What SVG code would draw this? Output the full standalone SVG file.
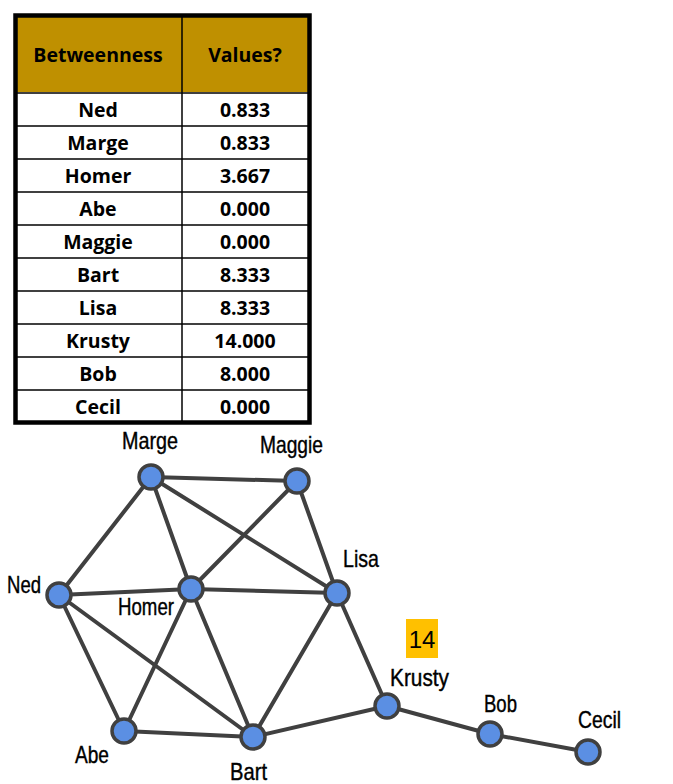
<svg xmlns="http://www.w3.org/2000/svg" width="673" height="784" viewBox="0 0 673 784">
<style>
.th{font-family:"Open Sans","Liberation Sans",sans-serif;font-weight:bold;font-size:19.5px;fill:#000;text-anchor:middle}
.td{font-family:"Open Sans","Liberation Sans",sans-serif;font-weight:bold;font-size:19.5px;fill:#000;text-anchor:middle}
.grid{stroke:#000;stroke-width:1.5;fill:none}
.edge{stroke:#404040;stroke-width:4;stroke-linecap:round}
.node{fill:#5B8FE3;stroke:#404040;stroke-width:3.5}
.lbl{font-family:"Liberation Sans","DejaVu Sans",sans-serif;font-size:24px;fill:#000;stroke:#000;stroke-width:0.4}
.num{font-family:"Liberation Sans",sans-serif;font-size:24px;fill:#000;text-anchor:middle}
</style>
<g id="table">
<rect x="16" y="16" width="293" height="76" fill="#BF9000"/>
<rect x="16" y="92" width="293" height="330" fill="#fff"/>
<g class="grid">
<line x1="182" y1="16" x2="182" y2="422"/>
<line x1="16" y1="93" x2="309" y2="93"/>
<line x1="16" y1="126" x2="309" y2="126"/>
<line x1="16" y1="159" x2="309" y2="159"/>
<line x1="16" y1="192" x2="309" y2="192"/>
<line x1="16" y1="225" x2="309" y2="225"/>
<line x1="16" y1="258" x2="309" y2="258"/>
<line x1="16" y1="291" x2="309" y2="291"/>
<line x1="16" y1="324" x2="309" y2="324"/>
<line x1="16" y1="357" x2="309" y2="357"/>
<line x1="16" y1="390" x2="309" y2="390"/>
</g>
<rect x="15.5" y="15.5" width="294" height="407" fill="none" stroke="#000" stroke-width="4.5"/>
<text class="th" x="98" y="62">Betweenness</text>
<text class="th" x="245" y="62">Values?</text>
<text class="td" x="98" y="117">Ned</text><text class="td" x="245" y="117">0.833</text>
<text class="td" x="98" y="150">Marge</text><text class="td" x="245" y="150">0.833</text>
<text class="td" x="98" y="183">Homer</text><text class="td" x="245" y="183">3.667</text>
<text class="td" x="98" y="216">Abe</text><text class="td" x="245" y="216">0.000</text>
<text class="td" x="98" y="249">Maggie</text><text class="td" x="245" y="249">0.000</text>
<text class="td" x="98" y="282">Bart</text><text class="td" x="245" y="282">8.333</text>
<text class="td" x="98" y="315">Lisa</text><text class="td" x="245" y="315">8.333</text>
<text class="td" x="98" y="348">Krusty</text><text class="td" x="245" y="348">14.000</text>
<text class="td" x="98" y="381">Bob</text><text class="td" x="245" y="381">8.000</text>
<text class="td" x="98" y="414">Cecil</text><text class="td" x="245" y="414">0.000</text>
</g>
<g id="connectors">
<line class="edge" x1="151" y1="477" x2="297" y2="481"/>
<line class="edge" x1="151" y1="477" x2="59" y2="595"/>
<line class="edge" x1="151" y1="477" x2="191" y2="589"/>
<line class="edge" x1="151" y1="477" x2="337" y2="593"/>
<line class="edge" x1="297" y1="481" x2="191" y2="589"/>
<line class="edge" x1="297" y1="481" x2="337" y2="593"/>
<line class="edge" x1="59" y1="595" x2="191" y2="589"/>
<line class="edge" x1="59" y1="595" x2="124" y2="731"/>
<line class="edge" x1="59" y1="595" x2="253" y2="737"/>
<line class="edge" x1="191" y1="589" x2="337" y2="593"/>
<line class="edge" x1="191" y1="589" x2="124" y2="731"/>
<line class="edge" x1="191" y1="589" x2="253" y2="737"/>
<line class="edge" x1="337" y1="593" x2="253" y2="737"/>
<line class="edge" x1="337" y1="593" x2="387" y2="706"/>
<line class="edge" x1="124" y1="731" x2="253" y2="737"/>
<line class="edge" x1="253" y1="737" x2="387" y2="706"/>
<line class="edge" x1="387" y1="706" x2="490" y2="734"/>
<line class="edge" x1="490" y1="734" x2="588" y2="752"/>
</g>
<g id="node-marge"><circle class="node" cx="151" cy="477" r="12"/><text class="lbl" x="122" y="449" textLength="56" lengthAdjust="spacingAndGlyphs">Marge</text></g>
<g id="node-maggie"><circle class="node" cx="297" cy="481" r="12"/><text class="lbl" x="260" y="453" textLength="63" lengthAdjust="spacingAndGlyphs">Maggie</text></g>
<g id="node-ned"><circle class="node" cx="59" cy="595" r="12"/><text class="lbl" x="7" y="593" textLength="34" lengthAdjust="spacingAndGlyphs">Ned</text></g>
<g id="node-homer"><circle class="node" cx="191" cy="589" r="12"/><text class="lbl" x="118" y="615" textLength="56" lengthAdjust="spacingAndGlyphs">Homer</text></g>
<g id="node-lisa"><circle class="node" cx="337" cy="593" r="12"/><text class="lbl" x="343" y="567" textLength="36" lengthAdjust="spacingAndGlyphs">Lisa</text></g>
<g id="node-abe"><circle class="node" cx="124" cy="731" r="12"/><text class="lbl" x="75" y="763" textLength="34" lengthAdjust="spacingAndGlyphs">Abe</text></g>
<g id="node-bart"><circle class="node" cx="253" cy="737" r="12"/><text class="lbl" x="230" y="780" textLength="37" lengthAdjust="spacingAndGlyphs">Bart</text></g>
<g id="node-krusty"><circle class="node" cx="387" cy="706" r="12"/><text class="lbl" x="390" y="686" textLength="59" lengthAdjust="spacingAndGlyphs">Krusty</text>
<rect x="406" y="619" width="32" height="39" fill="#FFC000"/><text class="num" x="422" y="648">14</text></g>
<g id="node-bob"><circle class="node" cx="490" cy="734" r="12"/><text class="lbl" x="484" y="712" textLength="33" lengthAdjust="spacingAndGlyphs">Bob</text></g>
<g id="node-cecil"><circle class="node" cx="588" cy="752" r="12"/><text class="lbl" x="578" y="728" textLength="43" lengthAdjust="spacingAndGlyphs">Cecil</text></g>
</svg>
